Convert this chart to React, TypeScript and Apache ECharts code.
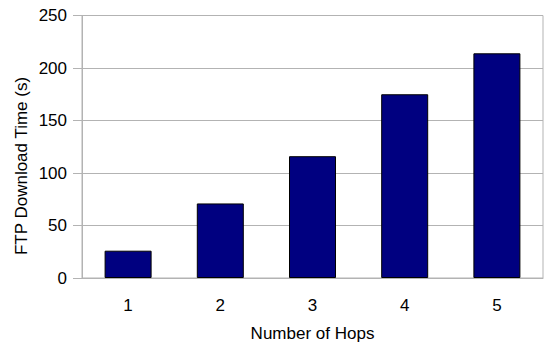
import React, { useEffect, useRef } from "react";
import * as echarts from "echarts";

const categories = ["1", "2", "3", "4", "5"];
const downloadTimes = [26, 71, 116, 175, 214];
const yTicks = { min: 0, max: 250, interval: 50 };
const xTitle = "Number of Hops";
const yTitle = "FTP Download Time (s)";

const FONT = "'Liberation Sans', Arial, sans-serif";

export default function App() {
  const ref = useRef<HTMLDivElement>(null);
  useEffect(() => {
    if (!ref.current) return;
    const chart = echarts.init(ref.current, undefined, { renderer: "svg" });
    chart.setOption({
      animation: false,
      grid: {
        left: 82,
        right: 2,
        top: 15.5,
        bottom: 64,
        show: true,
        borderColor: "#b3b3b3",
        borderWidth: 1,
      },
      graphic: [
        {
          type: "text",
          x: 21,
          y: 166,
          rotation: Math.PI / 2,
          style: {
            text: yTitle,
            fill: "#000",
            fontSize: 17,
            fontFamily: FONT,
            align: "center",
            verticalAlign: "middle",
          },
        },
      ],
      xAxis: {
        type: "category",
        data: categories,
        name: xTitle,
        nameLocation: "middle",
        nameGap: 47,
        nameTextStyle: { color: "#000", fontSize: 17, fontFamily: FONT },
        axisLine: { lineStyle: { color: "#b3b3b3" } },
        axisTick: { alignWithLabel: true, length: 7, lineStyle: { color: "#b3b3b3" } },
        axisLabel: { color: "#000", fontSize: 17, fontFamily: FONT, margin: 19 },
      },
      yAxis: {
        type: "value",
        min: yTicks.min,
        max: yTicks.max,
        interval: yTicks.interval,
        axisLine: { show: true, lineStyle: { color: "#b3b3b3" } },
        axisTick: { show: true, length: 9, lineStyle: { color: "#b3b3b3" } },
        axisLabel: { color: "#000", fontSize: 17, fontFamily: FONT, margin: 15 },
        splitLine: { lineStyle: { color: "#b3b3b3" } },
      },
      series: [
        {
          type: "bar",
          data: downloadTimes,
          barWidth: 47,
          itemStyle: { color: "#000080", borderColor: "#000", borderWidth: 1 },
        },
      ],
    });
    return () => chart.dispose();
  }, []);
  return <div ref={ref} style={{ width: 545, height: 347, position: "absolute", left: 0, top: 0 }} />;
}
